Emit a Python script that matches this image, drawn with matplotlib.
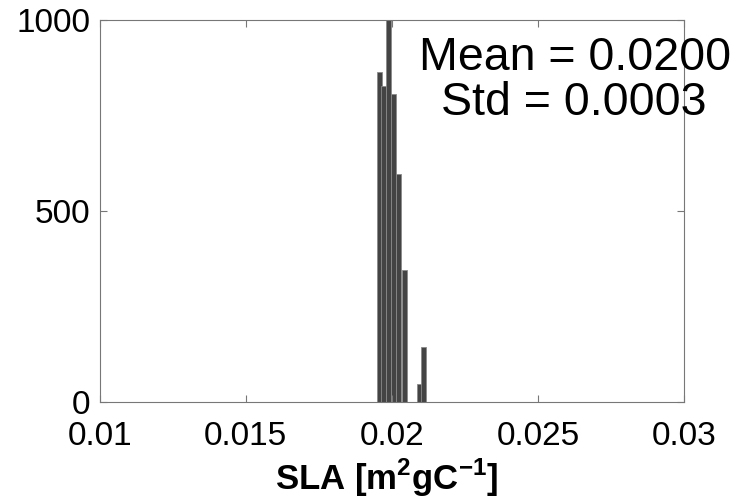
import matplotlib
matplotlib.use('Agg')
import matplotlib.pyplot as plt
import numpy as np

plt.rcParams['font.family'] = ['Liberation Sans', 'DejaVu Sans']
plt.rcParams['mathtext.fontset'] = 'custom'
plt.rcParams['mathtext.rm'] = 'Liberation Sans'
plt.rcParams['mathtext.bf'] = 'Liberation Sans:bold'

# histogram of SLA (10 bins, MATLAB hist style)
bin_centers = [0.01956, 0.01973, 0.01990, 0.02007, 0.02024,
               0.02042, 0.02059, 0.02076, 0.02093, 0.02110]
counts = [865, 827, 1000, 806, 597, 346, 0, 0, 46, 144]
bin_width = 0.000171

x_ticks = [0.01, 0.015, 0.02, 0.025, 0.03]
x_tick_labels = ['0.01', '0.015', '0.02', '0.025', '0.03']
y_ticks = [0, 500, 1000]

fig = plt.figure(figsize=(7.45, 5.01), dpi=100)
ax = fig.add_axes([0.134, 0.198, 0.784, 0.762])

ax.bar(bin_centers, counts, width=bin_width, color='#444444',
       edgecolor='#8a8a8a', linewidth=0.6)

ax.set_xlim(0.01, 0.03)
ax.set_ylim(0, 1000)
ax.set_xticks(x_ticks)
ax.set_xticklabels(x_tick_labels)
ax.set_yticks(y_ticks)
ax.tick_params(labelsize=24)
ax.tick_params(axis='y', pad=7)
ax.tick_params(axis='x', pad=14)
ax.tick_params(direction='in', length=5, color='#777777', top=True, right=True)
for s in ax.spines.values():
  s.set_color('#777777')
  s.set_linewidth(0.8)
  s.set_zorder(5)

fig.text(0.519, 0.022, r'SLA [m$^\mathbf{2}$gC$^\mathbf{-1}$]', ha='center', va='baseline',
         fontsize=25, fontweight='bold')

fig.text(0.7718, 0.8603, 'Mean = 0.0200', ha='center', va='baseline', fontsize=33.5)
fig.text(0.7705, 0.7705, 'Std = 0.0003', ha='center', va='baseline', fontsize=33.5)

fig.savefig('out.png', dpi=100)
